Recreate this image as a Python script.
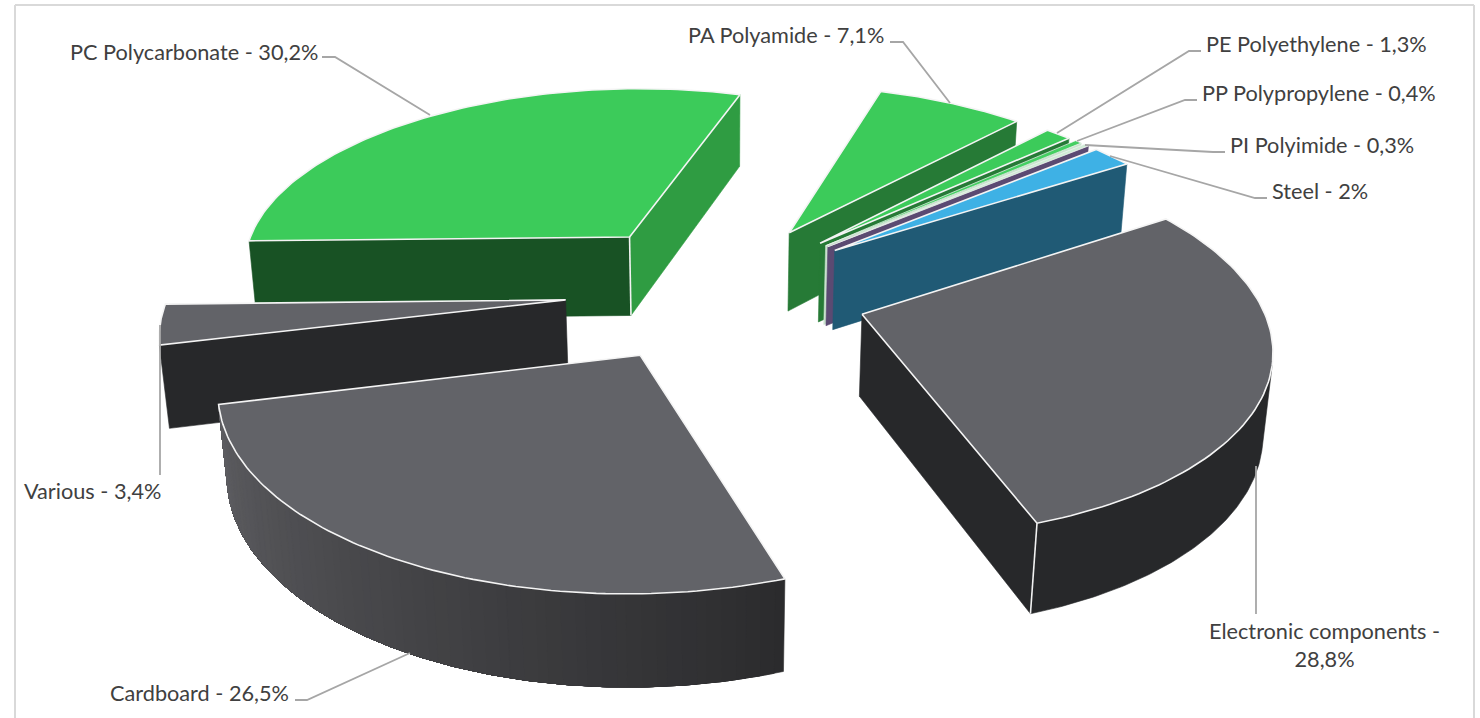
import numpy as np, plotly.graph_objects as go

labels = ["PA Polyamide - 7,1%", "PE Polyethylene - 1,3%", "PP Polypropylene - 0,4%", "PI Polyimide - 0,3%",
          "Steel - 2%", "Electronic components -<br>28,8%", "Cardboard - 26,5%", "Various - 3,4%", "PC Polycarbonate - 30,2%"]
values = [7.1, 1.3, 0.4, 0.3, 2.0, 28.8, 26.5, 3.4, 30.2]
top_colors = ["#3CCB5A", "#3CCB5A", "#45CF62", "#CFEBD5", "#3EB1E5", "#626368", "#626368", "#626368", "#3CCB5A"]
start_face = ["#2F9C42", "#2F9C42", "#C9E3CE", "#5B4A72", "#205A75", "#27282A", "#27282A", "#27282A", "#185224"]
end_face = ["#267A36", "#267A36", "#C9E3CE", "#5B4A72", "#205A75", "#27282A", "#2B2B2D", "#27282A", "#2F9C42"]
draw_order = [8, 0, 1, 2, 3, 4, 7, 5, 6]

# camera and pie geometry
CX, CY, F, D, PHI, TH0, H, EXPLODE = 716.6, 290.7, 2447.4, 6.185, 0.4828, 0.3039, 0.235, 0.382
CUM = np.concatenate([[0], np.cumsum(values)]) / sum(values)

def proj(X, Y, Z):
    X, Y, Z = map(np.asarray, (X, Y, Z))
    d = D + Y * np.cos(PHI) - Z * np.sin(PHI)
    return CX + F * X / d, CY - F * (Y * np.sin(PHI) + Z * np.cos(PHI)) / d

CAM = np.array([0, -D * np.cos(PHI), D * np.sin(PHI)])
fig = go.Figure()

def poly(x, y, fill, line=None, w=0.6):
    fig.add_trace(go.Scatter(x=list(x) + [x[0]], y=list(y) + [y[0]], mode="lines", fill="toself", fillcolor=fill,
                             line=dict(color=line or fill, width=w), hoverinfo="skip", showlegend=False))

def seg(x, y, color="#F2F2F2", w=1.6):
    fig.add_trace(go.Scatter(x=x, y=y, mode="lines", line=dict(color=color, width=w), hoverinfo="skip", showlegend=False))

def lerp(c1, c2, t):
    a = [int(c1[i:i + 2], 16) for i in (1, 3, 5)]
    b = [int(c2[i:i + 2], 16) for i in (1, 3, 5)]
    return "rgb(%d,%d,%d)" % tuple(round(a[i] + (b[i] - a[i]) * t) for i in range(3))

def seen(px, py, nx, ny):
    return (CAM[0] - px) * nx + (CAM[1] - py) * ny > 0

def wall(ox, oy, ts, col):
    X = np.r_[ox + np.sin(ts), ox + np.sin(ts[::-1])]
    Y = np.r_[oy + np.cos(ts), oy + np.cos(ts[::-1])]
    Z = np.r_[0 * ts, 0 * ts - H]
    x, y = proj(X, Y, Z)
    poly(list(x), list(y), col)

for s in draw_order:
    a0 = TH0 + 2 * np.pi * CUM[s]
    a1 = TH0 + 2 * np.pi * CUM[s + 1]
    m = (a0 + a1) / 2
    ox, oy = EXPLODE * np.sin(m), EXPLODE * np.cos(m)
    vis0 = seen(ox, oy, -np.cos(a0), np.sin(a0))
    vis1 = seen(ox, oy, np.cos(a1), -np.sin(a1))
    for vis, a, col in ((vis0, a0, start_face[s]), (vis1, a1, end_face[s])):
        if vis:
            X = [ox, ox + np.sin(a), ox + np.sin(a), ox]
            Y = [oy, oy + np.cos(a), oy + np.cos(a), oy]
            x, y = proj(X, Y, [0, 0, -H, -H])
            poly(x, y, col)
    # outer wall: keep only the arc that faces the camera
    n = 160
    t = np.linspace(a0, a1, n + 1)
    ok = [i for i in range(n + 1) if seen(ox + np.sin(t[i]), oy + np.cos(t[i]), np.sin(t[i]), np.cos(t[i]))]
    wall_last = n in ok
    if ok:
        if s == 6:
            # graded wall: each band is overdrawn by the next, so no seams show
            bands = 60
            for b in range(bands):
                i0 = ok[0] + (ok[-1] - ok[0]) * b // bands
                ts = t[i0:ok[-1] + 1]
                wall(ox, oy, ts, lerp("#2B2B2D", "#5E5E62", 1 - (b + .5) / bands) if False else lerp("#5E5E62", "#2B2B2D", 1 - (b + .5) / bands))
        else:
            wall(ox, oy, t[ok[0]:ok[-1] + 1], end_face[s])
    if vis0 and vis1:
        x, y = proj([ox, ox], [oy, oy], [0, -H])
        seg(x, y)
    if vis1 and wall_last:
        x, y = proj([ox + np.sin(a1)] * 2, [oy + np.cos(a1)] * 2, [0, -H])
        seg(x, y)
    tt = np.linspace(a0, a1, 90)
    X = np.r_[ox, ox + np.sin(tt)]
    Y = np.r_[oy, oy + np.cos(tt)]
    x, y = proj(X, Y, 0 * X)
    poly(list(x), list(y), top_colors[s], "#F4F4F4", 0.7 if s in (2, 3) else 1.6)

# leader lines and labels (page layout)
leaders = [([322, 335, 430], [57, 57, 115]),
           ([890, 903, 950], [42, 42, 103]),
           ([1201, 1189, 1057], [51, 51, 133]),
           ([1197, 1185, 1077], [100, 100, 141]),
           ([1225, 1213, 1085], [152, 152, 145]),
           ([1267, 1255, 1110], [198, 198, 156]),
           ([1256, 1256], [466, 614]),
           ([295, 307, 410], [700, 700, 653]),
           ([160, 160], [325, 475])]
for lx, ly in leaders:
    seg(lx, ly, "#A6A6A6", 1.8)

anchors = [(687, 35), (1205, 44), (1201, 93), (1229, 145), (1271, 191), (1324, 645), (109, 693), (23, 491), (69, 52)]
for i, (ax, ay) in enumerate(anchors):
    fig.add_annotation(x=ax, y=ay, text=labels[i], showarrow=False, xanchor="center" if i == 5 else "left",
                       yanchor="middle", align="center", font=dict(family="Lato", size=21.7, color="#404040"),
                       xref="x", yref="y", borderpad=0, bgcolor="rgba(0,0,0,0)")

frame = dict(type="line", xref="x", yref="y", line=dict(color="#D9D9D9", width=2))
fig.update_layout(shapes=[dict(frame, x0=15, x1=15, y0=5, y1=718), dict(frame, x0=15, x1=1474, y0=5, y1=5),
                          dict(frame, x0=1474, x1=1474, y0=5, y1=718)])
fig.update_xaxes(range=[0, 1480], visible=False, fixedrange=True)
fig.update_yaxes(range=[718, 0], visible=False, fixedrange=True)
fig.update_layout(width=1480, height=718, autosize=False, margin=dict(l=0, r=0, t=0, b=0),
                  plot_bgcolor="white", paper_bgcolor="white", showlegend=False)
fig.write_html("out.html", config=dict(displayModeBar=False, staticPlot=True),
               post_script="document.body.style.margin='0';document.body.style.overflow='hidden';")
